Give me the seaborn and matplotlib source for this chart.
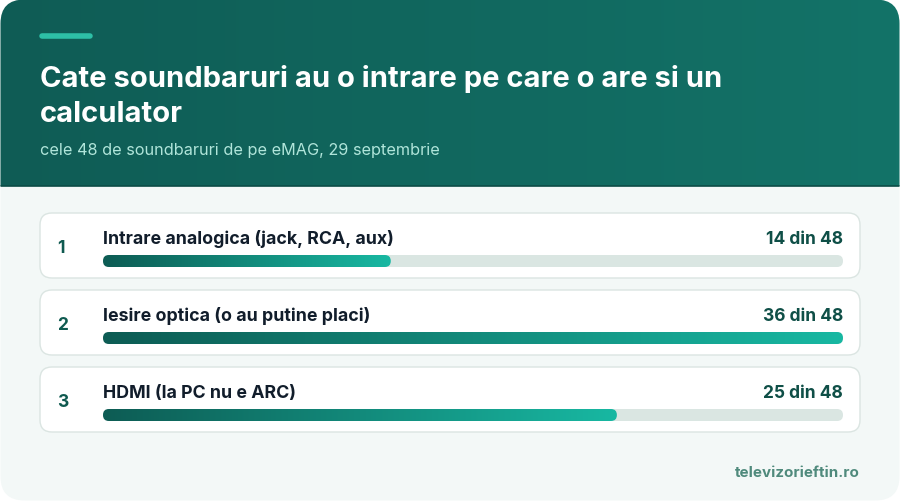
import numpy as np
import pandas as pd
import matplotlib
matplotlib.use("Agg")
import matplotlib.pyplot as plt
import seaborn as sns
from matplotlib.patches import FancyBboxPatch
from matplotlib.colors import LinearSegmentedColormap

# data
ranks = [1, 2, 3]
labels = ["Intrare analogica (jack, RCA, aux)", "Iesire optica (o au putine placi)", "HDMI (la PC nu e ARC)"]
counts = [14, 36, 25]
total = 48
title_lines = ["Cate soundbaruri au o intrare pe care o are si un", "calculator"]
subtitle = "cele 48 de soundbaruri de pe eMAG, 29 septembrie"
source = "televizorieftin.ro"

df = pd.DataFrame({"label": labels, "count": counts, "rank": ranks})
df["track"] = df["count"].max()

sns.set_style("white")
plt.rcParams["font.family"] = ["Inter", "DejaVu Sans"]

W, H = 900, 502
fig = plt.figure(figsize=(9, 5.02), dpi=100, facecolor="white")

# background axes in pixel coordinates
ax = fig.add_axes([0, 0, 1, 1])
ax.set_xlim(0, W)
ax.set_ylim(H, 0)
ax.axis("off")

outer = FancyBboxPatch((0.5, 0.5), W - 1, H - 1, boxstyle="round,pad=0,rounding_size=24",
                       fc="#f3f8f7", ec="none", zorder=0)
ax.add_patch(outer)

head_cmap = LinearSegmentedColormap.from_list("head", ["#0f5c55", "#137368"])
grad = np.linspace(0, 1, 256).reshape(1, -1)
im = ax.imshow(grad, extent=(0, W, 187, 0), cmap=head_cmap, aspect="auto", zorder=1)
im.set_clip_path(outer)
ax.plot([0, W], [187, 187], color="#0b4c46", lw=1.2, zorder=2, clip_path=outer)
ax.set_xlim(0, W)
ax.set_ylim(H, 0)

ax.plot([42, 90], [36.5, 36.5], color="#2dbfa6", lw=4, solid_capstyle="round", zorder=3)
for line, base in zip(title_lines, [87, 122]):
    ax.text(40, base, line, color="white", fontsize=21, fontweight="bold", va="baseline", zorder=3)
ax.text(40, 155, subtitle, color="#b0e5da", fontsize=11.7, va="baseline", zorder=3)

card_tops = [214, 291, 368]
for top, r, lab, c in zip(card_tops, df["rank"], df["label"], df["count"]):
    ax.add_patch(FancyBboxPatch((40, top), 820, 65, boxstyle="round,pad=0,rounding_size=12",
                                fc="white", ec="#dbe5e2", lw=1, zorder=3))
    ax.text(57, top + 39, str(r), color="#0f5a50", fontsize=12.5, fontweight="bold",
            va="baseline", zorder=4)
    ax.text(103, top + 30, lab, color="#111d2b", fontsize=12.8, fontweight="bold",
            va="baseline", zorder=4)
    ax.text(843, top + 30, f"{c} din {total}", color="#0f4f47", fontsize=12.5,
            fontweight="bold", va="baseline", ha="right", zorder=4)

ax.text(860, 477, source, color="#4f8a7c", fontsize=10.9, fontweight="bold",
        va="baseline", ha="right", zorder=4)

# bar axes
bx0, bx1 = 103, 843
yc0, step = 262, 77
top_px = yc0 - step / 2
bot_px = yc0 + 2 * step + step / 2
bax = fig.add_axes([bx0 / W, (H - bot_px) / H, (bx1 - bx0) / W, (bot_px - top_px) / H])
bax.patch.set_alpha(0)
bar_h = 12 / step

sns.barplot(data=df, x="track", y="label", orient="h", color="#dae6e2", width=bar_h, ax=bax)
n_track = len(bax.patches)
sns.barplot(data=df, x="count", y="label", orient="h", color="#14a08e", width=bar_h, ax=bax)

xmax = df["track"].max()
bax.set_xlim(0, xmax)
bax.set_ylim(2.5, -0.5)
bax.axis("off")

px_x = (bx1 - bx0) / xmax
r_x = 6 / px_x
aspect = (6 / step) / r_x
bar_cmap = LinearSegmentedColormap.from_list("bar", ["#0d5c54", "#18b8a2"])

rects = list(bax.patches)
for i, p in enumerate(rects):
    x, y, w, h = p.get_x(), p.get_y(), p.get_width(), p.get_height()
    p.remove()
    rp = FancyBboxPatch((x, y), w, h, boxstyle=f"round,pad=0,rounding_size={r_x}",
                        mutation_aspect=aspect, ec="none", transform=bax.transData)
    if i < n_track:
        rp.set_facecolor("#dae6e2")
        rp.set_zorder(1)
        bax.add_patch(rp)
    else:
        rp.set_facecolor("none")
        rp.set_zorder(2)
        bax.add_patch(rp)
        g = bax.imshow(grad, extent=(x, x + w, y + h, y), cmap=bar_cmap, aspect="auto", zorder=2)
        g.set_clip_path(rp)

bax.set_xlim(0, xmax)
bax.set_ylim(2.5, -0.5)

fig.savefig("out.png", dpi=100, facecolor="white")
